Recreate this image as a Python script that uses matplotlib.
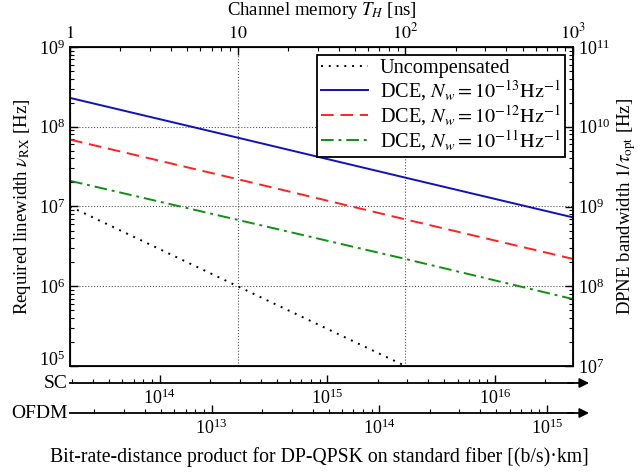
import numpy as np
import matplotlib
matplotlib.use("Agg")
import matplotlib.pyplot as plt
from matplotlib.ticker import LogLocator, FixedLocator, FixedFormatter, NullFormatter

plt.rcParams["font.family"] = ["Liberation Serif", "DejaVu Serif"]
plt.rcParams["mathtext.fontset"] = "stix"
plt.rcParams["font.size"] = 13

# channel memory T_H [ns]
t_h = [1, 10, 100, 1000]
uncomp_t = [1, 10, 100]
uncomp = [1.0e7, 1.0e6, 1.0e5]
dce_13 = [2.3e8, 7.3e7, 2.3e7, 7.3e6]
dce_12 = [6.9e7, 2.2e7, 6.9e6, 2.2e6]
dce_11 = [2.1e7, 6.8e6, 2.2e6, 6.9e5]

top_ticks = [1, 10, 100, 1000]
top_labels = ["$1$", "$10$", "$10^2$", "$10^3$"]
left_ticks = [1e5, 1e6, 1e7, 1e8, 1e9]

# bit-rate-distance product at T_H = 1 ns
sc_at_1ns = 2.92e13
ofdm_at_1ns = 1.43e12

W, H = 638, 473
fig = plt.figure(figsize=(W / 100, H / 100), dpi=100)

left, right, top, bottom = 70, 573, 47, 366
ax = fig.add_axes([left / W, 1 - bottom / H, (right - left) / W, (bottom - top) / H])

ax.plot(uncomp_t, uncomp, color="black", ls=(0, (1, 3)), lw=1.4, label="Uncompensated")
ax.plot(t_h, dce_13, color="#1010c0", ls="-", lw=1.4,
        label=r"DCE, $N_w = 10^{-13}\mathrm{Hz}^{-1}$")
ax.plot(t_h, dce_12, color="#ff2020", ls=(0, (6.5, 3.5)), lw=1.4,
        label=r"DCE, $N_w = 10^{-12}\mathrm{Hz}^{-1}$")
ax.plot(t_h, dce_11, color="#109010", ls=(0, (6.5, 2.5, 1.5, 2.5)), lw=1.4,
        label=r"DCE, $N_w = 10^{-11}\mathrm{Hz}^{-1}$")

ax.set_xscale("log")
ax.set_yscale("log")
ax.set_xlim(1, 1000)
ax.set_ylim(1e5, 1e9)
ax.xaxis.set_major_locator(FixedLocator(top_ticks))
ax.xaxis.set_major_formatter(FixedFormatter(top_labels))
ax.xaxis.set_minor_locator(LogLocator(base=10, subs=np.arange(2, 10)))
ax.xaxis.set_minor_formatter(NullFormatter())
ax.xaxis.tick_top()
ax.xaxis.set_label_position("top")
ax.set_xlabel(r"Channel memory $T_H$ [ns]", labelpad=5, fontsize=13.5)
ax.set_ylabel(r"Required linewidth $\nu_{\mathrm{RX}}$ [Hz]", labelpad=4, fontsize=13.5)
ax.yaxis.set_major_locator(FixedLocator(left_ticks))
ax.yaxis.set_minor_locator(LogLocator(base=10, subs=np.arange(2, 10), numticks=10))
ax.yaxis.set_minor_formatter(NullFormatter())
ax.tick_params(which="both", direction="in", top=True, bottom=False,
               labeltop=True, labelbottom=False, right=False)
ax.tick_params(which="major", length=6, width=1)
ax.tick_params(which="minor", length=3, width=0.8)
ax.grid(True, which="major", color="#555555", ls=":", lw=0.8)
for s in ax.spines.values():
    s.set_linewidth(1.3)
# lowest left label sits on its tick so it clears the SC scale
ax.yaxis.get_major_ticks()[0].label1.set_verticalalignment("baseline")

leg = ax.legend(loc="upper right", fancybox=False, framealpha=1, edgecolor="black",
                handlelength=2.3, borderpad=0.2, labelspacing=0.0, handletextpad=0.6,
                borderaxespad=0.4, fontsize=14.6)
leg.get_frame().set_linewidth(1.3)

ax2 = ax.twinx()
ax2.set_yscale("log")
ax2.set_ylim(1e7, 1e11)
ax2.yaxis.set_major_locator(LogLocator(base=10, numticks=10))
ax2.yaxis.set_minor_locator(LogLocator(base=10, subs=np.arange(2, 10), numticks=10))
ax2.yaxis.set_minor_formatter(NullFormatter())
ax2.tick_params(which="both", direction="in")
ax2.tick_params(which="major", length=6, width=1)
ax2.tick_params(which="minor", length=3, width=0.8)
ax2.set_ylabel(r"DPNE bandwidth $1/\tau_{\mathrm{opt}}$ [Hz]", labelpad=3, fontsize=13.5)


def bottom_scale(y_px, factor, name):
    a = fig.add_axes([left / W, 1 - y_px / H, (right - left) / W, 0.01])
    a.set_xscale("log")
    a.set_xlim(factor * 1, factor * 1000)
    a.set_yticks([])
    for k in ("top", "left", "right"):
        a.spines[k].set_visible(False)
    a.spines["bottom"].set_linewidth(1.3)
    a.patch.set_visible(False)
    a.xaxis.set_major_locator(LogLocator(base=10, numticks=10))
    a.xaxis.set_minor_locator(LogLocator(base=10, subs=np.arange(2, 10), numticks=10))
    a.xaxis.set_minor_formatter(NullFormatter())
    a.tick_params(which="both", direction="in")
    a.tick_params(which="major", length=6, width=1, pad=4)
    a.tick_params(which="minor", length=3, width=0.8)
    a.annotate("", xy=(1.032, 0), xytext=(0.99, 0), xycoords="axes fraction",
               arrowprops=dict(arrowstyle="-|>", color="black", lw=1.3,
                               mutation_scale=14, shrinkA=0, shrinkB=0))
    a.text(-0.005, 0, name, transform=a.transAxes, ha="right", va="center", fontsize=14)
    return a


bottom_scale(383, sc_at_1ns, "SC")
bottom_scale(413, ofdm_at_1ns, "OFDM")

fig.text(0.5, 1 - 457 / H,
         "Bit-rate-distance product for DP-QPSK on standard fiber [(b/s)\u00b7km]",
         ha="center", va="center", fontsize=14.2)

fig.savefig("out.png", dpi=100)
